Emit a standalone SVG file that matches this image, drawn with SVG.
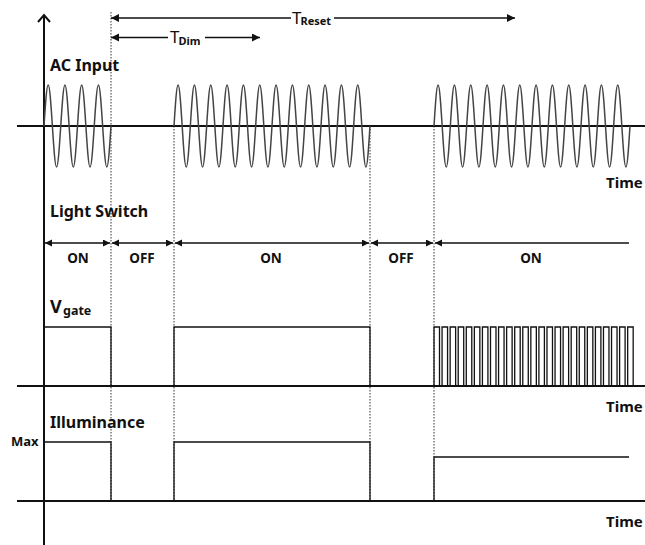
<svg xmlns="http://www.w3.org/2000/svg" width="645" height="545" viewBox="0 0 645 545">
<style>
text{font-family:"Noto Sans","Open Sans","DejaVu Sans",sans-serif;fill:#111}
.lbl{font-size:16px;font-weight:bold}
.tm{font-size:15px;font-weight:bold}
.st{font-size:13.5px;font-weight:bold;text-anchor:middle}
.axis{stroke:#111;stroke-width:2;fill:none}
.sig{stroke:#111;stroke-width:1.3;fill:none}
.sine{stroke:#444;stroke-width:1.5;fill:none}
.dot{stroke:#333;stroke-width:1;stroke-dasharray:1.5,1.5;fill:none}
.arr{stroke:#111;stroke-width:1.3;fill:none}
</style>
<defs>
<marker id="ah" markerUnits="userSpaceOnUse" markerWidth="9" markerHeight="9" refX="8" refY="4" orient="auto-start-reverse"><path d="M0,0 L8,4 L0,8 z" fill="#111"/></marker>
<marker id="as" markerUnits="userSpaceOnUse" markerWidth="8" markerHeight="8" refX="7" refY="3.5" orient="auto-start-reverse"><path d="M0,0 L7,3.5 L0,7 z" fill="#111"/></marker>
</defs>
<g id="guides">
<line class="dot" x1="111" y1="12" x2="111" y2="501"/>
<line class="dot" x1="174" y1="126" x2="174" y2="501"/>
<line class="dot" x1="370" y1="126" x2="370" y2="501"/>
<line class="dot" x1="434" y1="126" x2="434" y2="501"/>
</g>
<g id="axes">
<line class="axis" x1="44" y1="545" x2="44" y2="16"/>
<polyline class="axis" points="38,22 44,15 50,22"/>
<line class="axis" x1="17" y1="126" x2="645" y2="126"/>
<line class="axis" x1="17" y1="386" x2="645" y2="386"/>
<line class="axis" x1="17" y1="501" x2="645" y2="501"/>
</g>
<g id="connectors">
<line class="arr" x1="111" y1="18" x2="291" y2="18" marker-start="url(#ah)"/>
<line class="arr" x1="334" y1="18" x2="515" y2="18" marker-end="url(#ah)"/>
<line class="arr" x1="111" y1="37.5" x2="168" y2="37.5" marker-start="url(#ah)"/>
<line class="arr" x1="205" y1="37.5" x2="260" y2="37.5" marker-end="url(#ah)"/>
<line class="arr" x1="45" y1="243" x2="110" y2="243" marker-start="url(#as)" marker-end="url(#as)"/>
<line class="arr" x1="112" y1="243" x2="173" y2="243" marker-start="url(#as)" marker-end="url(#as)"/>
<line class="arr" x1="175" y1="243" x2="369" y2="243" marker-start="url(#as)" marker-end="url(#as)"/>
<line class="arr" x1="371" y1="243" x2="433" y2="243" marker-start="url(#as)" marker-end="url(#as)"/>
<line class="arr" x1="435" y1="243" x2="629" y2="243" marker-start="url(#as)"/>
</g>
<g id="ac-input">
<path class="sine" d="M44,126 c1.366,-21 2.672,-41 4.1875,-41 s2.822,20 4.1875,41 s2.672,41 4.1875,41 s2.822,-20 4.1875,-41
s2.672,-41 4.1875,-41 s2.822,20 4.1875,41 s2.672,41 4.1875,41 s2.822,-20 4.1875,-41
s2.672,-41 4.1875,-41 s2.822,20 4.1875,41 s2.672,41 4.1875,41 s2.822,-20 4.1875,-41
s2.672,-41 4.1875,-41 s2.822,20 4.1875,41 s2.672,41 4.1875,41 s2.822,-20 4.1875,-41"/>
<path class="sine" d="M174,126 c1.332,-21 2.606,-41 4.0833,-41 s2.751,20 4.0833,41 s2.606,41 4.0833,41 s2.751,-20 4.0833,-41
s2.606,-41 4.0833,-41 s2.751,20 4.0833,41 s2.606,41 4.0833,41 s2.751,-20 4.0833,-41
s2.606,-41 4.0833,-41 s2.751,20 4.0833,41 s2.606,41 4.0833,41 s2.751,-20 4.0833,-41
s2.606,-41 4.0833,-41 s2.751,20 4.0833,41 s2.606,41 4.0833,41 s2.751,-20 4.0833,-41
s2.606,-41 4.0833,-41 s2.751,20 4.0833,41 s2.606,41 4.0833,41 s2.751,-20 4.0833,-41
s2.606,-41 4.0833,-41 s2.751,20 4.0833,41 s2.606,41 4.0833,41 s2.751,-20 4.0833,-41
s2.606,-41 4.0833,-41 s2.751,20 4.0833,41 s2.606,41 4.0833,41 s2.751,-20 4.0833,-41
s2.606,-41 4.0833,-41 s2.751,20 4.0833,41 s2.606,41 4.0833,41 s2.751,-20 4.0833,-41
s2.606,-41 4.0833,-41 s2.751,20 4.0833,41 s2.606,41 4.0833,41 s2.751,-20 4.0833,-41
s2.606,-41 4.0833,-41 s2.751,20 4.0833,41 s2.606,41 4.0833,41 s2.751,-20 4.0833,-41
s2.606,-41 4.0833,-41 s2.751,20 4.0833,41 s2.606,41 4.0833,41 s2.751,-20 4.0833,-41
s2.606,-41 4.0833,-41 s2.751,20 4.0833,41 s2.606,41 4.0833,41 s2.751,-20 4.0833,-41"/>
<path class="sine" d="M434,126 c1.332,-21 2.606,-41 4.0833,-41 s2.751,20 4.0833,41 s2.606,41 4.0833,41 s2.751,-20 4.0833,-41
s2.606,-41 4.0833,-41 s2.751,20 4.0833,41 s2.606,41 4.0833,41 s2.751,-20 4.0833,-41
s2.606,-41 4.0833,-41 s2.751,20 4.0833,41 s2.606,41 4.0833,41 s2.751,-20 4.0833,-41
s2.606,-41 4.0833,-41 s2.751,20 4.0833,41 s2.606,41 4.0833,41 s2.751,-20 4.0833,-41
s2.606,-41 4.0833,-41 s2.751,20 4.0833,41 s2.606,41 4.0833,41 s2.751,-20 4.0833,-41
s2.606,-41 4.0833,-41 s2.751,20 4.0833,41 s2.606,41 4.0833,41 s2.751,-20 4.0833,-41
s2.606,-41 4.0833,-41 s2.751,20 4.0833,41 s2.606,41 4.0833,41 s2.751,-20 4.0833,-41
s2.606,-41 4.0833,-41 s2.751,20 4.0833,41 s2.606,41 4.0833,41 s2.751,-20 4.0833,-41
s2.606,-41 4.0833,-41 s2.751,20 4.0833,41 s2.606,41 4.0833,41 s2.751,-20 4.0833,-41
s2.606,-41 4.0833,-41 s2.751,20 4.0833,41 s2.606,41 4.0833,41 s2.751,-20 4.0833,-41
s2.606,-41 4.0833,-41 s2.751,20 4.0833,41 s2.606,41 4.0833,41 s2.751,-20 4.0833,-41
s2.606,-41 4.0833,-41 s2.751,20 4.0833,41 s2.606,41 4.0833,41 s2.751,-20 4.0833,-41"/>
</g>
<g id="vgate">
<path class="sig" d="M44,327 H111 V386 M174,386 V327 H370 V386"/>
<path class="sig" d="M434,386 v-59 h5.5 v59 m2.57,0 v-59 h5.5 v59 m2.57,0 v-59 h5.5 v59 m2.57,0 v-59 h5.5 v59 m2.57,0 v-59 h5.5 v59 m2.57,0 v-59 h5.5 v59 m2.57,0 v-59 h5.5 v59 m2.57,0 v-59 h5.5 v59 m2.57,0 v-59 h5.5 v59 m2.57,0 v-59 h5.5 v59 m2.57,0 v-59 h5.5 v59 m2.57,0 v-59 h5.5 v59 m2.57,0 v-59 h5.5 v59 m2.57,0 v-59 h5.5 v59 m2.57,0 v-59 h5.5 v59 m2.57,0 v-59 h5.5 v59 m2.57,0 v-59 h5.5 v59 m2.57,0 v-59 h5.5 v59 m2.57,0 v-59 h5.5 v59 m2.57,0 v-59 h5.5 v59 m2.57,0 v-59 h5.5 v59 m2.57,0 v-59 h5.5 v59 m2.57,0 v-59 h5.5 v59 m2.57,0 v-59 h5.5 v59 m2.57,0 v-59 h5.5 v59"/>
</g>
<g id="illuminance">
<path class="sig" d="M44,442 H111 V501 M174,501 V442 H370 V501 M434,501 V457 H629"/>
</g>
<g id="labels">
<text x="292" y="24" style="font-size:17px">T</text>
<text x="300.5" y="25" style="font-size:11px;font-weight:bold">Reset</text>
<text x="170" y="43" style="font-size:17px">T</text>
<text x="178.5" y="45" style="font-size:11px;font-weight:bold">Dim</text>
<text class="lbl" x="50" y="71">AC Input</text>
<text class="tm" x="606" y="188">Time</text>
<text class="lbl" x="50" y="217">Light Switch</text>
<text class="st" x="78" y="263">ON</text>
<text class="st" x="142" y="263">OFF</text>
<text class="st" x="271" y="263">ON</text>
<text class="st" x="401" y="263">OFF</text>
<text class="st" x="531" y="263">ON</text>
<text x="50" y="313" style="font-size:18px;font-weight:bold">V<tspan x="63" y="315" style="font-size:12.5px">gate</tspan></text>
<text class="tm" x="606" y="412">Time</text>
<text class="lbl" x="50" y="428">Illuminance</text>
<text x="11" y="446" style="font-size:13px;font-weight:bold">Max</text>
<text class="tm" x="606" y="527">Time</text>
</g>
</svg>
